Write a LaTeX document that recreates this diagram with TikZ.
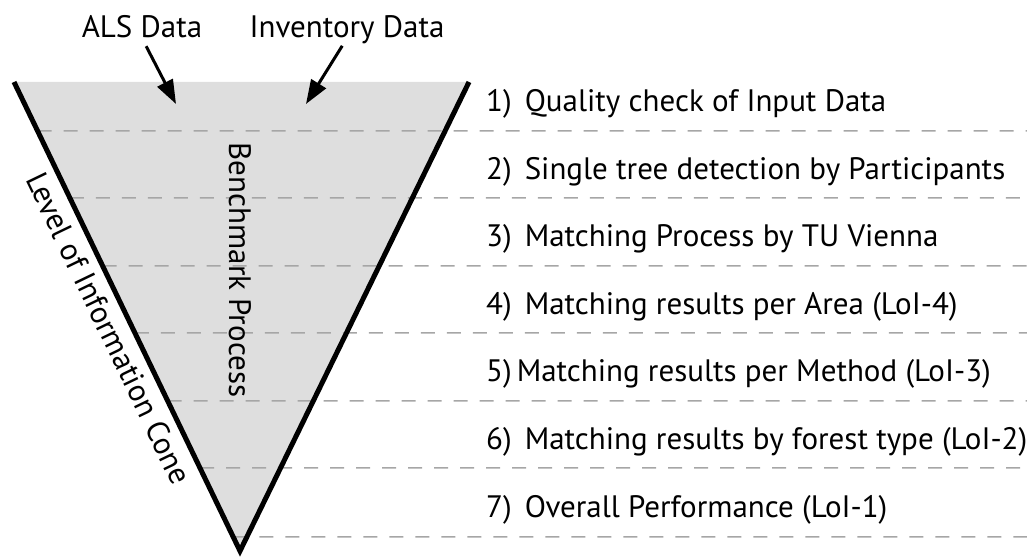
\documentclass[tikz,border=0pt]{standalone}
\usepackage{fontspec}
\setmainfont{PT Sans}
\usetikzlibrary{arrows.meta,calc}

\begin{document}
\begin{tikzpicture}[x=1pt, y=1pt,
    lbl/.style={font=\fontsize{31}{36}\selectfont, inner sep=0pt},
    lvl/.style={draw=black!35, line width=1.5pt, dash pattern=on 14pt off 12pt},
    feed/.style={line width=3pt, -{Triangle[length=24pt,width=17pt]}, shorten <=9pt}]
    \useasboundingbox (0,0) rectangle (1027,559);

    % cono
    \coordinate (tl) at (14,477);
    \coordinate (tr) at (469,477);
    \coordinate (tip) at (240,8);
    \fill[black!13] (tl) -- (tr) -- (tip) -- cycle;

    % niveles (rayado gris)
    \foreach \y in {428,361,293,226,158,91,22}
        \draw[lvl] ($(tl)!{(477-\y)/469}!(tip)$) -- (1027,\y);

    % bordes del cono
    \draw[line width=5pt] (tl) -- (tip) -- (tr);

    % entradas
    \node[lbl, text depth=0pt, anchor=base] (als) at (142,521) {ALS Data};
    \node[lbl, text depth=0pt, anchor=base] (inv) at (347,521) {Inventory Data};
    \coordinate (alsin) at (176,455);
    \coordinate (invin) at (306,455);
    \draw[feed] (als.south) -- (alsin);
    \draw[feed] (inv.south) -- (invin);

    % textos del cono
    \node[lbl, rotate=-90] (bench) at (240,289) {Benchmark Process};
    \path (tl) -- (tip) node[lbl, pos=0.505, sloped, below=10pt] (cone) {Level of Information Cone};

    % pasos
    \node[lbl, anchor=base west] (s1) at (486,447) {1)\hspace*{13pt}Quality check of Input Data};
    \node[lbl, anchor=base west] (s2) at (486,379) {2)\hspace*{13pt}Single tree detection by Participants};
    \node[lbl, anchor=base west] (s3) at (486,312) {3)\hspace*{13pt}Matching Process by TU Vienna};
    \node[lbl, anchor=base west] (s4) at (486,244) {4)\hspace*{13pt}Matching results per Area (LoI-4)};
    \node[lbl, anchor=base west] (s5) at (486,177) {5)\hspace*{5pt}Matching results per Method (LoI-3)};
    \node[lbl, anchor=base west] (s6) at (486,109) {6)\hspace*{13pt}Matching results by forest type (LoI-2)};
    \node[lbl, anchor=base west] (s7) at (486,41) {7)\hspace*{13pt}Overall Performance (LoI-1)};
\end{tikzpicture}
\end{document}
